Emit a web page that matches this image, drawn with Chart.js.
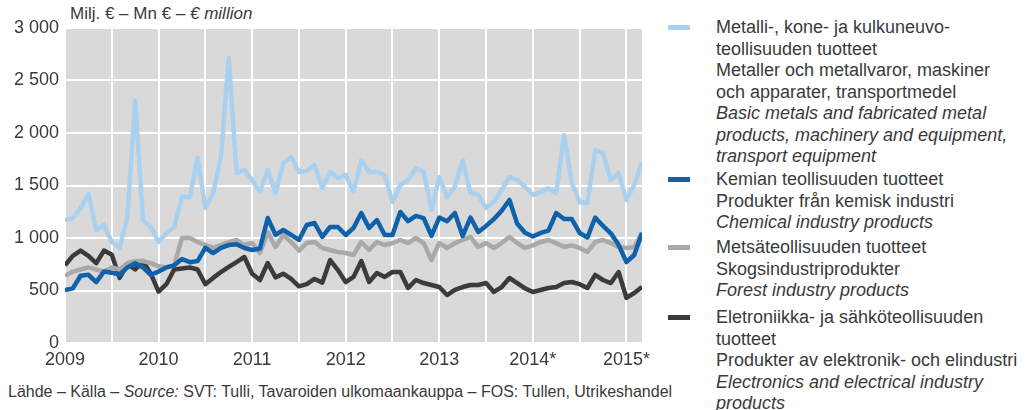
<!DOCTYPE html>
<html>
<head>
<meta charset="utf-8">
<script src="https://cdn.jsdelivr.net/npm/chart.js@4.4.1/dist/chart.umd.min.js"></script>
<style>
    body { margin: 0; background: #fff; font-family: "Liberation Sans", Arial, sans-serif; color: #3a3a3a; }
    #wrap { position: relative; width: 1027px; height: 410px; overflow: hidden; }
    #chartBox { position: absolute; left: 0; top: 0; width: 657px; height: 375px; }
    .unit { position: absolute; left: 70px; top: 4px; font-size: 17px; white-space: nowrap; }
    .source { position: absolute; left: 8px; top: 383px; font-size: 16px; white-space: nowrap; }
    .legend-group { position: absolute; left: 716px; font-size: 18px; line-height: 21.5px; white-space: nowrap; }
    .legend-group .swatch { position: absolute; left: -48px; top: 8px; width: 22px; height: 5px; }
    i { font-style: italic; }
</style>
</head>
<body>
<div id="wrap">
    <div class="unit">Milj. € – Mn € – <i>€ million</i></div>
    <div id="chartBox"><canvas id="chartVienti"></canvas></div>
    <div id="legend"></div>
    <div class="source">Lähde – Källa – <i>Source:</i> SVT: Tulli, Tavaroiden ulkomaankauppa – FOS: Tullen, Utrikeshandel</div>
</div>
<script>
// Kuukaudet 1/2009 - 3/2015 (indeksi 0 = tammikuu 2009)
const yearLabels = ['2009', '2010', '2011', '2012', '2013', '2014*', '2015*'];

// Metalli-, kone- ja kulkuneuvoteollisuus
const metalli = [1170, 1190, 1285, 1420, 1076, 1124, 962, 905, 1200, 2310, 1170, 1105,
    962, 1048, 1105, 1390, 1390, 1762, 1285, 1428, 1771, 2714, 1620, 1648,
    1552, 1440, 1648, 1428, 1714, 1771, 1629, 1640, 1695, 1476, 1629, 1571,
    1600, 1438, 1743, 1629, 1629, 1600, 1343, 1505, 1552, 1667, 1629, 1267,
    1581, 1390, 1486, 1743, 1428, 1410, 1286, 1343, 1457, 1581, 1552, 1486,
    1410, 1438, 1476, 1428, 1981, 1524, 1343, 1333, 1838, 1810, 1552, 1619,
    1362, 1505, 1724];

// Kemian teollisuus
const kemia = [505, 520, 640, 650, 580, 680, 670, 650, 720, 760, 720, 650,
    680, 720, 740, 800, 770, 780, 905, 857, 905, 933, 940, 905,
    886, 900, 1190, 1030, 1076, 1030, 981, 1124, 1143, 1010, 1105, 1105,
    1029, 1095, 1238, 1095, 1171, 1029, 1029, 1248, 1160, 1210, 1190, 1020,
    1195, 1160, 1238, 1020, 1195, 1057, 1115, 1180, 1260, 1362, 1135, 1050,
    1015, 1048, 1070, 1238, 1180, 1180, 1048, 1005, 1195, 1115, 1045, 935,
    771, 838, 1048];

// Metsäteollisuus
const metsa = [640, 680, 700, 720, 700, 680, 720, 700, 760, 780, 780, 760,
    730, 720, 740, 1000, 1000, 962, 933, 905, 933, 960, 981, 933,
    952, 857, 1057, 914, 1029, 962, 880, 952, 962, 905, 886, 867,
    857, 838, 962, 886, 962, 933, 952, 981, 952, 1000, 952, 790,
    952, 905, 952, 981, 1010, 914, 952, 905, 952, 1010, 952, 905,
    930, 962, 981, 950, 914, 930, 905, 867, 962, 981, 952, 914,
    905, 914, 1048];

// Elektroniikka- ja sähköteollisuus
const elektro = [740, 830, 880, 830, 760, 880, 840, 620, 750, 700, 780, 660,
    490, 560, 700, 710, 720, 700, 560, 620, 676, 724, 771, 819,
    660, 600, 762, 625, 660, 610, 540, 560, 610, 575, 790, 695,
    580, 629, 780, 581, 667, 629, 676, 676, 524, 600, 571, 552,
    533, 457, 505, 533, 552, 552, 571, 486, 533, 619, 571, 520,
    486, 505, 524, 533, 571, 581, 560, 524, 648, 600, 571, 676,
    429, 476, 533];

const seriesColors = ['#a9d1ef', '#0f62aa', '#a9a9a9', '#3b3b3b'];

const legendGroups = [
    ['Metalli-, kone- ja kulkuneuvo-', 'teollisuuden tuotteet', 'Metaller och metallvaror, maskiner',
     'och apparater, transportmedel', '<i>Basic metals and fabricated metal</i>',
     '<i>products, machinery and equipment,</i>', '<i>transport equipment</i>'],
    ['Kemian teollisuuden tuotteet', 'Produkter från kemisk industri', '<i>Chemical industry products</i>'],
    ['Metsäteollisuuden tuotteet', 'Skogsindustriprodukter', '<i>Forest industry products</i>'],
    ['Eletroniikka- ja sähköteollisuuden', 'tuotteet', 'Produkter av elektronik- och elindustri',
     '<i>Electronics and electrical industry</i>', '<i>products</i>']
];
const legendTops = [17, 169, 237, 307];

// Selite
const legend = document.getElementById('legend');
legendGroups.forEach((lines, i) => {
    const g = document.createElement('div');
    g.className = 'legend-group';
    g.style.top = legendTops[i] + 'px';
    g.innerHTML = `<span class="swatch" style="background:${seriesColors[i]}"></span>` + lines.join('<br>');
    legend.appendChild(g);
});

function toPoints(arr) {
    return arr.map((v, i) => ({ x: i, y: v }));
}

const plotBg = {
    id: 'plotBg',
    beforeDraw(chart) {
        const a = chart.chartArea;
        const ctx = chart.ctx;
        ctx.save();
        ctx.fillStyle = '#d9d9d9';
        ctx.fillRect(a.left, a.top, a.right - a.left, a.bottom - a.top);
        ctx.restore();
    }
};

const names = ['Metalli', 'Kemia', 'Metsä', 'Elektroniikka'];
const ctx = document.getElementById('chartVienti').getContext('2d');
new Chart(ctx, {
    type: 'line',
    data: {
        datasets: [metalli, kemia, metsa, elektro].map((arr, i) => ({
            label: names[i],
            data: toPoints(arr),
            borderColor: seriesColors[i],
            borderWidth: 4.5,
            pointRadius: 0,
            tension: 0,
            borderJoinStyle: 'round',
            fill: false
        }))
    },
    options: {
        responsive: true,
        maintainAspectRatio: false,
        animation: false,
        layout: { padding: { top: 28, right: 15, left: 0, bottom: 0 } },
        plugins: { legend: { display: false }, tooltip: { enabled: false } },
        scales: {
            x: {
                type: 'linear',
                min: 0,
                max: 74,
                border: { display: false },
                grid: { color: '#ffffff', lineWidth: 2, drawTicks: false },
                afterBuildTicks: scale => {
                    const t = [];
                    for (let v = 0; v <= 72; v += 6) t.push({ value: v });
                    scale.ticks = t;
                },
                afterFit: scale => { scale.height = 32; },
                ticks: {
                    autoSkip: false,
                    maxRotation: 0,
                    padding: 6,
                    color: '#3a3a3a',
                    font: { family: 'Liberation Sans', size: 18 },
                    callback: v => (v % 12 === 0 ? yearLabels[v / 12] : '')
                }
            },
            y: {
                min: 0,
                max: 3000,
                border: { display: false },
                grid: { color: '#ffffff', lineWidth: 2, drawTicks: false },
                afterFit: scale => { scale.width = 65; },
                ticks: {
                    stepSize: 500,
                    padding: 6,
                    color: '#3a3a3a',
                    font: { family: 'Liberation Sans', size: 18 },
                    callback: v => (v >= 1000 ? Math.floor(v / 1000) + ' ' + String(v % 1000).padStart(3, '0') : String(v))
                }
            }
        }
    },
    plugins: [plotBg]
});
</script>
</body>
</html>
